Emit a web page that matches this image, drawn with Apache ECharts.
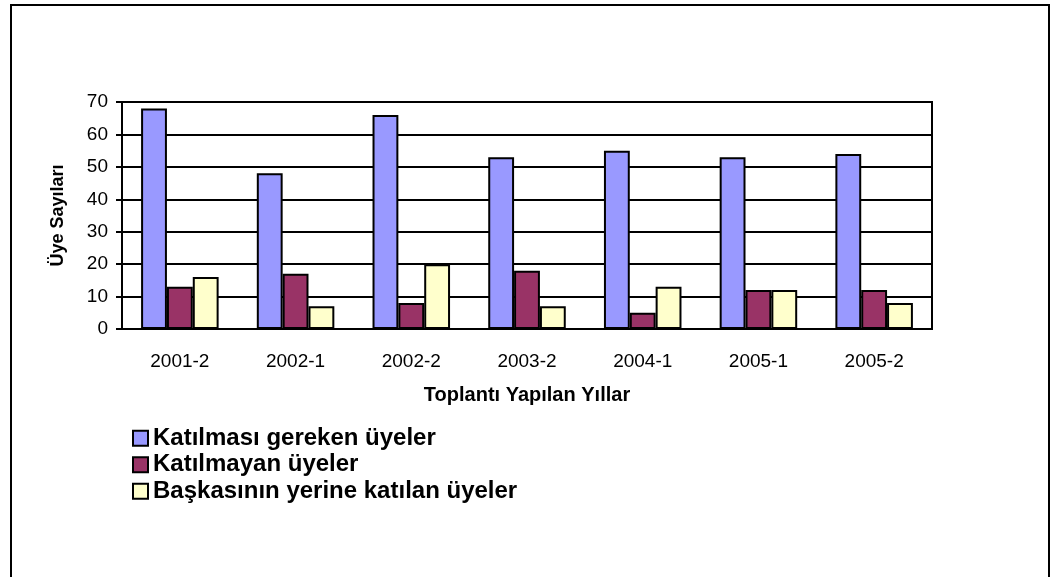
<!DOCTYPE html>
<html>
<head>
<meta charset="utf-8">
<script src="https://cdn.jsdelivr.net/npm/echarts@6/dist/echarts.min.js"></script>
<style>
  html, body { margin: 0; padding: 0; background: #fff; }
  #chart { width: 1054px; height: 577px; }
</style>
</head>
<body>
<div id="chart"></div>
<script>
  // kategoriler ve seriler
  var years = ['2001-2', '2002-1', '2002-2', '2003-2', '2004-1', '2005-1', '2005-2'];
  var katilmasiGereken = [68, 48, 66, 53, 55, 53, 54];
  var katilmayan = [13, 17, 8, 18, 5, 12, 12];
  var baskasininYerine = [16, 7, 20, 7, 13, 12, 8];
  var seriesNames = ['Katılması gereken üyeler', 'Katılmayan üyeler', 'Başkasının yerine katılan üyeler'];
  var colors = ['#9999ff', '#993366', '#ffffcc'];

  var font = 'Liberation Sans, Arial, sans-serif';
  var chart = echarts.init(document.getElementById('chart'));

  function bar(name, data, color) {
    return {
      name: name,
      type: 'bar',
      data: data,
      barGap: '0%',
      barCategoryGap: '33%',
      itemStyle: { color: color, borderColor: '#000', borderWidth: 2 }
    };
  }

  chart.setOption({
    animation: false,
    textStyle: { fontFamily: font },
    graphic: [{
      type: 'rect',
      shape: { x: 11, y: 5, width: 1038, height: 600 },
      style: { fill: 'none', stroke: '#000', lineWidth: 2 }
    }],
    grid: {
      left: 122, top: 102, width: 810, height: 227,
      show: true, borderColor: '#000', borderWidth: 2, backgroundColor: 'transparent'
    },
    legend: {
      orient: 'vertical',
      left: 127, top: 420,
      icon: 'rect',
      itemWidth: 15, itemHeight: 15,
      itemGap: 0,
      textStyle: { fontSize: 24, lineHeight: 26.5, fontWeight: 'bold', color: '#000', fontFamily: font },
      data: seriesNames
    },
    xAxis: {
      type: 'category',
      data: years,
      name: 'Toplantı Yapılan Yıllar',
      nameLocation: 'middle',
      nameGap: 56,
      nameTextStyle: { fontSize: 20, fontWeight: 'bold', color: '#000' },
      axisLine: { lineStyle: { color: '#000', width: 2 } },
      axisTick: { length: 7, lineStyle: { color: '#000', width: 2 } },
      axisLabel: { fontSize: 19, color: '#000', margin: 23 }
    },
    yAxis: {
      type: 'value',
      min: 0, max: 70, interval: 10,
      name: 'Üye Sayıları',
      nameLocation: 'middle',
      nameGap: 55,
      nameTextStyle: { fontSize: 18, fontWeight: 'bold', color: '#000' },
      axisLine: { show: true, lineStyle: { color: '#000', width: 2 } },
      axisTick: { show: true, length: 6, lineStyle: { color: '#000', width: 2 } },
      axisLabel: { fontSize: 19, color: '#000', margin: 14 },
      splitLine: { lineStyle: { color: '#000', width: 2 } }
    },
    series: [
      bar(seriesNames[0], katilmasiGereken, colors[0]),
      bar(seriesNames[1], katilmayan, colors[1]),
      bar(seriesNames[2], baskasininYerine, colors[2])
    ]
  });
</script>
</body>
</html>
